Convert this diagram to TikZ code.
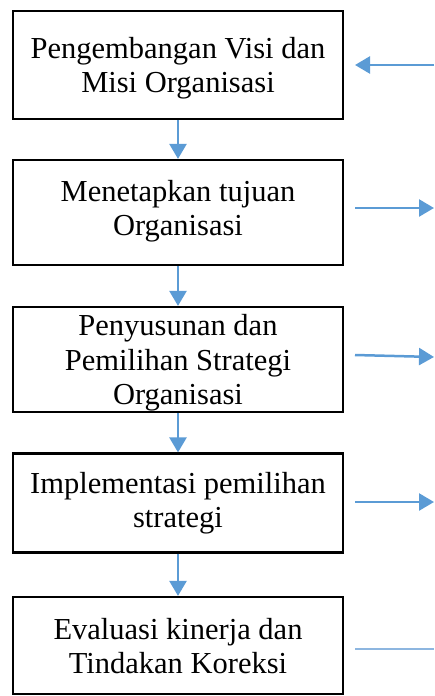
\documentclass[tikz,border=0pt]{standalone}
\usepackage{fontspec}
\setmainfont{Liberation Serif}
\usetikzlibrary{arrows.meta}
\definecolor{flowblue}{HTML}{5B9BD5}
\definecolor{paleblue}{HTML}{8DB6E0}
\begin{document}
\begin{tikzpicture}[x=1pt,y=-1pt,
  stagebox/.style={draw=black,line width=2.2pt,minimum width=330pt,inner sep=0pt,
    align=center,font=\fontsize{30.5}{34.5}\selectfont},
  flow/.style={draw=flowblue,line width=2.5pt,-{Triangle[length=15pt,width=17pt]}},
  plainlink/.style={draw=paleblue,line width=1.5pt}]
\useasboundingbox (0,0) rectangle (434,696);

% the five stages, top to bottom
\node[stagebox,minimum height=108pt] (s1) at (178,65) {};
\node[stagebox,minimum height=105pt] (s2) at (178,212.5) {};
\node[stagebox,minimum height=105pt] (s3) at (178,359.5) {};
\node[stagebox,minimum height=99pt] (s4) at (178,503) {};
\node[stagebox,minimum height=97pt] (s5) at (178,645.5) {};

% stage captions
\node[stagebox,draw=none,minimum height=0pt] (t1) at (178,68) {Pengembangan Visi dan\\Misi Organisasi};
\node[stagebox,draw=none,minimum height=0pt] (t2) at (178,211) {Menetapkan tujuan\\Organisasi};
\node[stagebox,draw=none,minimum height=0pt] (t3) at (178,363) {Penyusunan dan\\Pemilihan Strategi\\Organisasi};
\node[stagebox,draw=none,minimum height=0pt] (t4) at (178,503) {Implementasi pemilihan\\strategi};
\node[stagebox,draw=none,minimum height=0pt] (t5) at (178,646) {Evaluasi kinerja dan\\Tindakan Koreksi};

% downward flow between stages
\draw[flow] (s1) -- (s2);
\draw[flow] (s2) -- (s3);
\draw[flow] (s3) -- (s4);
\draw[flow] (s4) -- (s5);

% side links on the right
\coordinate (o1) at (434,65);   \coordinate (i1) at (355,65);
\coordinate (i2) at (355,208);  \coordinate (o2) at (434,208);
\coordinate (i3) at (355,355);  \coordinate (o3) at (434,357);
\coordinate (i4) at (355,502);  \coordinate (o4) at (434,502);
\coordinate (i5) at (355,649);  \coordinate (o5) at (434,649);
\draw[flow] (o1) -- (i1);
\draw[flow] (i2) -- (o2);
\draw[flow] (i3) -- (o3);
\draw[flow] (i4) -- (o4);
\draw[plainlink] (i5) -- (o5);
\end{tikzpicture}
\end{document}
